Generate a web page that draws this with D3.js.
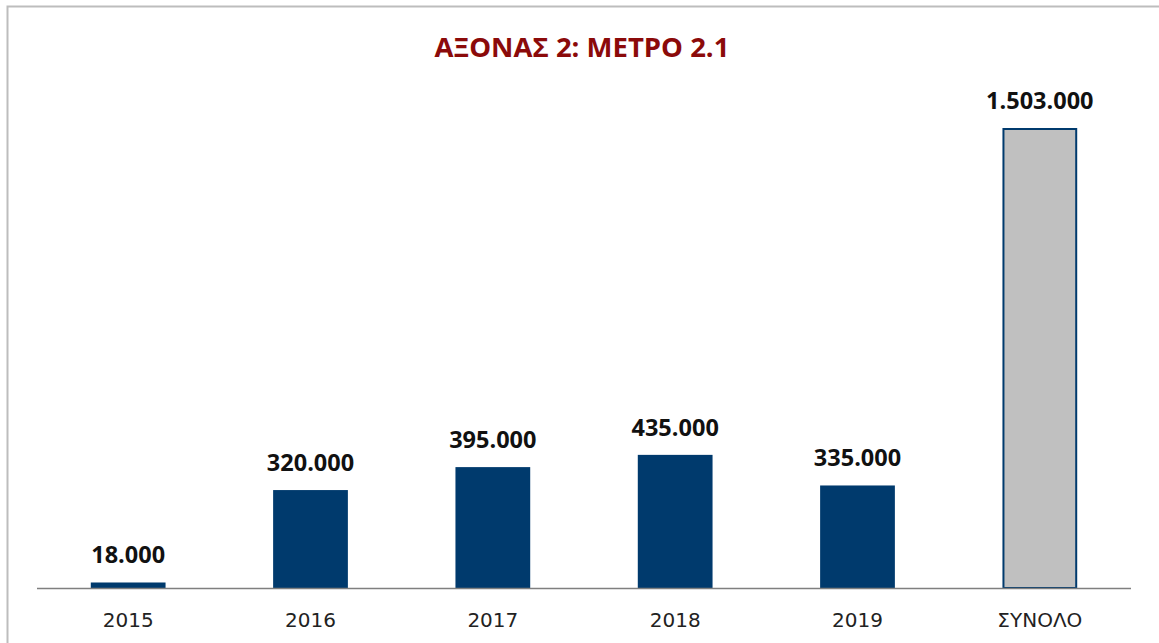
<!DOCTYPE html>
<html>
<head>
<meta charset="utf-8">
<script src="https://cdn.jsdelivr.net/npm/d3@7"></script>
<style>
  body { margin: 0; background: #fff; }
  svg { display: block; }
</style>
</head>
<body>
<div id="chart"></div>
<script>
const categories = ["2015", "2016", "2017", "2018", "2019", "ΣΥΝΟΛΟ"];
const values = [18000, 320000, 395000, 435000, 335000, 1503000];
const title = "ΑΞΟΝΑΣ 2: ΜΕΤΡΟ 2.1";

const width = 1159, height = 643;
const fmt = (v) => d3.format(",")(v).replace(/,/g, ".");

const svg = d3.select("#chart")
  .append("svg")
  .attr("width", width)
  .attr("height", height);

// outer frame (only top and left edges visible)
svg.append("path")
  .attr("d", `M7.5,${height} V6.5 H${width}`)
  .attr("fill", "none")
  .attr("stroke", "#bdbdbd")
  .attr("stroke-width", 2);

svg.append("text")
  .attr("x", 582)
  .attr("y", 57)
  .attr("text-anchor", "middle")
  .style("font-family", "'Open Sans', 'Noto Sans', sans-serif")
  .style("font-weight", "bold")
  .style("font-size", "27.5px")
  .attr("fill", "#8b0a0a")
  .text(title);

const x = d3.scaleBand().domain(categories).range([37, 1131]).paddingInner(0.59).paddingOuter(0.295);
const y = d3.scaleLinear().domain([0, 1503000]).range([588, 128]);

const last = categories.length - 1;

svg.selectAll("rect.bar")
  .data(values)
  .enter()
  .append("rect")
  .attr("class", "bar")
  .attr("x", (d, i) => x(categories[i]) + (i === last ? 1 : 0))
  .attr("y", (d, i) => y(d) + (i === last ? 1 : 0))
  .attr("width", (d, i) => x.bandwidth() - (i === last ? 2 : 0))
  .attr("height", (d, i) => y(0) - y(d) - (i === last ? 1 : 0))
  .attr("fill", (d, i) => i === last ? "#c0c0c0" : "#003a6d")
  .attr("stroke", (d, i) => i === last ? "#003a6d" : "none")
  .attr("stroke-width", 2);

// baseline
svg.append("line")
  .attr("x1", 37).attr("x2", 1131)
  .attr("y1", y(0) + 0.5).attr("y2", y(0) + 0.5)
  .attr("stroke", "#7f7f7f")
  .attr("stroke-width", 1.5);

svg.selectAll("text.value")
  .data(values)
  .enter()
  .append("text")
  .attr("class", "value")
  .attr("x", (d, i) => x(categories[i]) + x.bandwidth() / 2)
  .attr("y", (d) => y(d) - 19)
  .attr("text-anchor", "middle")
  .style("font-family", "'Open Sans', 'Noto Sans', sans-serif")
  .style("font-weight", "bold")
  .style("font-size", "23.5px")
  .attr("fill", "#111")
  .text(fmt);

svg.selectAll("text.cat")
  .data(categories)
  .enter()
  .append("text")
  .attr("class", "cat")
  .attr("x", (d) => x(d) + x.bandwidth() / 2)
  .attr("y", 627)
  .attr("text-anchor", "middle")
  .style("font-family", "'DejaVu Sans', sans-serif")
  .style("font-size", "20px")
  .attr("fill", "#222")
  .text((d) => d);
</script>
</body>
</html>
